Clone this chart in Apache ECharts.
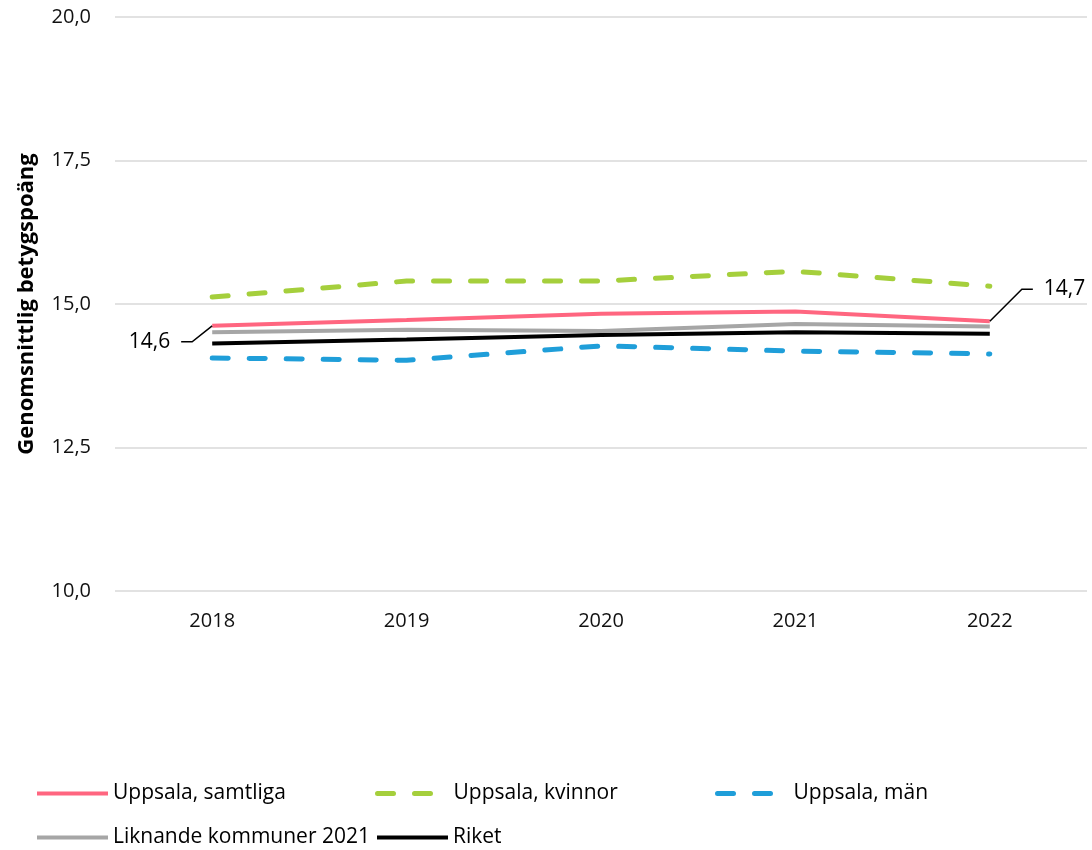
<!DOCTYPE html>
<html>
<head>
<meta charset="utf-8">
<script src="https://cdn.jsdelivr.net/npm/echarts@6/dist/echarts.min.js"></script>
<style>
  html, body { margin: 0; padding: 0; background: #fff; }
  #chart { width: 1092px; height: 850px; }
</style>
</head>
<body>
<div id="chart"></div>
<script>
const years = ['2018', '2019', '2020', '2021', '2022'];

const samtliga = [14.62, 14.72, 14.83, 14.87, 14.70];
const kvinnor = [15.12, 15.40, 15.40, 15.57, 15.31];
const man = [14.06, 14.02, 14.27, 14.18, 14.13];
const liknande = [14.51, 14.55, 14.53, 14.65, 14.61];
const riket = [14.31, 14.38, 14.46, 14.51, 14.48];

// only first and last point of "samtliga" carry a label
const labelledPoints = [0, 4];

const fmt = v => v.toFixed(1).replace('.', ',');
const font = '"Open Sans", "Liberation Sans", sans-serif';
const dash = [16, 21];
const gap = '\u00a0\u00a0';

const chart = echarts.init(document.getElementById('chart'));

const styles = {
  'Uppsala, samtliga': { color: '#ff6680', width: 4, dashed: false },
  'Uppsala, kvinnor': { color: '#a5cf3c', width: 5, dashed: true },
  'Uppsala, män': { color: '#1f9ed9', width: 5, dashed: true },
  'Liknande kommuner 2021': { color: '#a6a6a6', width: 4, dashed: false },
  'Riket': { color: '#000000', width: 4, dashed: false }
};

function lineStyleOf(name) {
  const s = styles[name];
  return {
    color: s.color,
    width: s.width,
    type: s.dashed ? dash : 'solid',
    cap: s.dashed ? 'round' : 'butt'
  };
}

function lineSeries(name, data) {
  return {
    name,
    type: 'line',
    data,
    symbol: 'none',
    lineStyle: lineStyleOf(name),
    itemStyle: { color: styles[name].color }
  };
}

const samtligaSeries = lineSeries('Uppsala, samtliga', samtliga.map((v, i) => ({
  value: v,
  symbol: labelledPoints.includes(i) ? 'circle' : 'none',
  symbolSize: 0.1,
  label: {
    show: labelledPoints.includes(i),
    position: i === 0 ? 'left' : 'right',
    formatter: p => (i === 0 ? fmt(p.value) + gap : gap + fmt(p.value))
  }
})));
samtligaSeries.showSymbol = true;
samtligaSeries.label = { fontFamily: font, fontSize: 21, color: '#000' };
samtligaSeries.labelLine = { show: true, length2: 11, lineStyle: { color: '#000', width: 1.5 } };
samtligaSeries.labelLayout = p => (p.dataIndex === 0 ? { dx: -26, dy: 16 } : { dx: 38, dy: -32 });
samtligaSeries.z = 5;

const series = [
  samtligaSeries,
  lineSeries('Uppsala, kvinnor', kvinnor),
  lineSeries('Uppsala, män', man),
  lineSeries('Liknande kommuner 2021', liknande),
  lineSeries('Riket', riket)
];

const legendPos = [
  { name: 'Uppsala, samtliga', left: 30, top: 778 },
  { name: 'Uppsala, kvinnor', left: 370, top: 778 },
  { name: 'Uppsala, män', left: 710, top: 778 },
  { name: 'Liknande kommuner 2021', left: 30, top: 822 },
  { name: 'Riket', left: 370, top: 822 }
];

chart.setOption({
  animation: false,
  grid: { left: 115, right: 5, top: 17, bottom: 259 },
  legend: legendPos.map(l => ({
    data: [l.name],
    left: l.left,
    top: l.top,
    itemWidth: 71,
    itemHeight: 14,
    selectedMode: false,
    itemStyle: { opacity: 0 },
    lineStyle: lineStyleOf(l.name),
    textStyle: { fontFamily: font, fontSize: 21, color: '#000' }
  })),
  xAxis: {
    type: 'category',
    data: years,
    boundaryGap: true,
    axisLine: { show: false },
    axisTick: { show: false },
    axisLabel: { fontFamily: font, fontSize: 20, color: '#111', margin: 20 }
  },
  yAxis: {
    type: 'value',
    min: 10,
    max: 20,
    interval: 2.5,
    name: 'Genomsnittlig betygspoäng',
    nameLocation: 'middle',
    nameRotate: 90,
    nameGap: 77,
    nameTextStyle: { fontFamily: font, fontSize: 22, fontWeight: 'bold', color: '#000' },
    axisLabel: { fontFamily: font, fontSize: 20, color: '#111', margin: 24, formatter: v => fmt(v) },
    splitLine: { lineStyle: { color: '#d9d9d9', width: 1.5 } },
    axisLine: { show: false },
    axisTick: { show: false }
  },
  series
});
</script>
</body>
</html>
